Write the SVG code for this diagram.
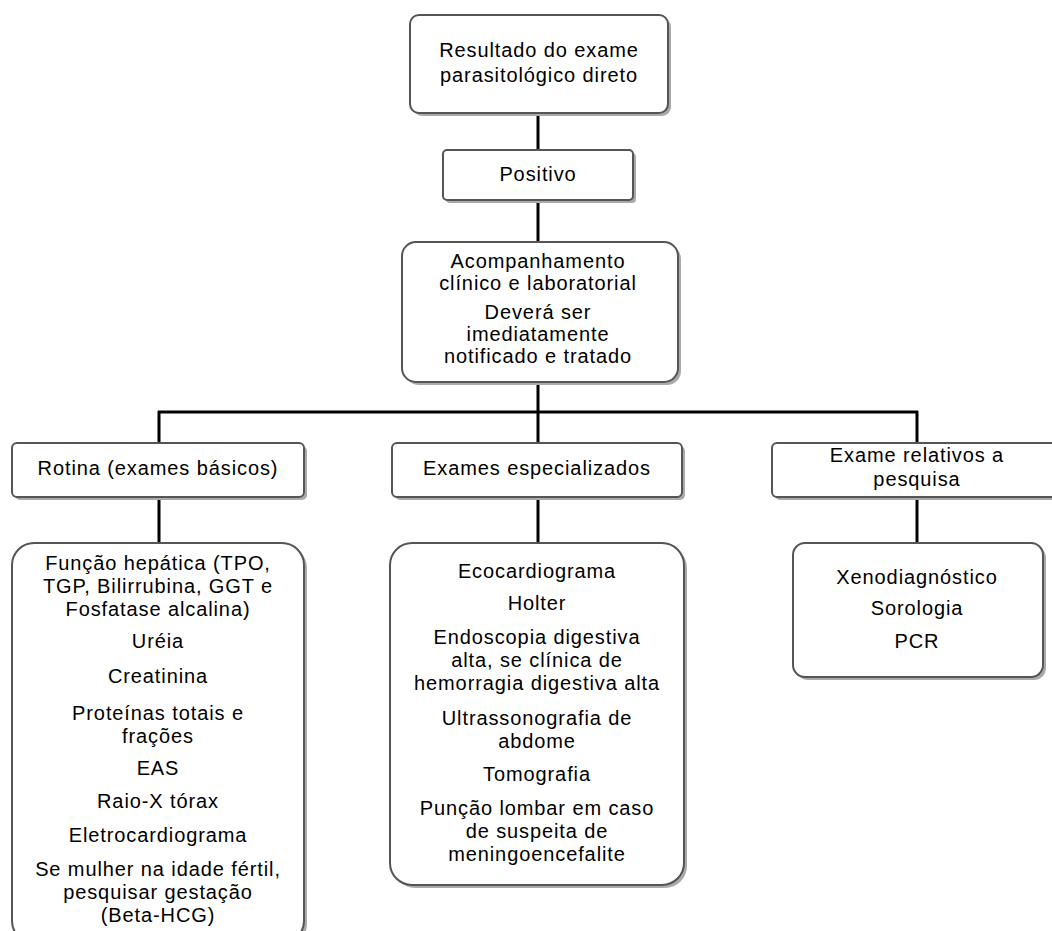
<svg xmlns="http://www.w3.org/2000/svg" width="1052" height="931" viewBox="0 0 1052 931">
<style>
.sh{fill:#aaaaaa}
.bx{fill:#ffffff;stroke:#555555;stroke-width:2}
text{font-family:"Liberation Sans",Arial,sans-serif;font-size:20px;fill:#000;text-anchor:middle;letter-spacing:0.9px}
.c line{stroke:#000;stroke-width:3}
</style>
<rect width="1052" height="931" fill="#fff"/>
<g class="c" id="connectors">
<line x1="538" y1="113" x2="538" y2="150"/>
<line x1="538" y1="200" x2="538" y2="242"/>
<line x1="538" y1="382" x2="538" y2="412"/>
<line x1="158" y1="412" x2="918" y2="412"/>
<line x1="159" y1="411" x2="159" y2="444"/>
<line x1="538" y1="411" x2="538" y2="444"/>
<line x1="917" y1="411" x2="917" y2="444"/>
<line x1="159" y1="497" x2="159" y2="545"/>
<line x1="538" y1="497" x2="538" y2="545"/>
<line x1="917" y1="497" x2="917" y2="545"/>
</g>
<g id="n1">
<rect class="sh" x="413" y="18" width="258" height="98" rx="9"/>
<rect class="bx" x="410" y="15" width="258" height="98" rx="9"/>
<text x="539" y="57">Resultado do exame</text>
<text x="539" y="82">parasitológico direto</text>
</g>
<g id="n2">
<rect class="sh" x="446" y="153" width="190" height="50" rx="4"/>
<rect class="bx" x="443" y="150" width="190" height="50" rx="4"/>
<text x="538" y="181">Positivo</text>
</g>
<g id="n3">
<rect class="sh" x="405" y="245" width="276" height="140" rx="14"/>
<rect class="bx" x="402" y="242" width="276" height="140" rx="14"/>
<text x="538" y="268">Acompanhamento</text>
<text x="538" y="290">clínico e laboratorial</text>
<text x="538" y="319">Deverá ser</text>
<text x="538" y="341">imediatamente</text>
<text x="538" y="363">notificado e tratado</text>
</g>
<g id="n4">
<rect class="sh" x="15" y="446" width="292" height="54" rx="5"/>
<rect class="bx" x="12" y="443" width="292" height="54" rx="5"/>
<text x="158" y="475">Rotina (exames básicos)</text>
</g>
<g id="n5">
<rect class="sh" x="395" y="446" width="290" height="54" rx="5"/>
<rect class="bx" x="392" y="443" width="290" height="54" rx="5"/>
<text x="537" y="475">Exames especializados</text>
</g>
<g id="n6">
<rect class="sh" x="775" y="446" width="292" height="54" rx="5"/>
<rect class="bx" x="772" y="443" width="292" height="54" rx="5"/>
<text x="917" y="462">Exame relativos a</text>
<text x="917" y="486">pesquisa</text>
</g>
<g id="n7">
<rect class="sh" x="15" y="546" width="292" height="400" rx="22"/>
<rect class="bx" x="12" y="543" width="292" height="400" rx="22"/>
<text x="158" y="570">Função hepática (TPO,</text>
<text x="158" y="593">TGP, Bilirrubina, GGT e</text>
<text x="158" y="616">Fosfatase alcalina)</text>
<text x="158" y="648">Uréia</text>
<text x="158" y="683">Creatinina</text>
<text x="158" y="720">Proteínas totais e</text>
<text x="158" y="743">frações</text>
<text x="158" y="775">EAS</text>
<text x="158" y="808">Raio-X tórax</text>
<text x="158" y="842">Eletrocardiograma</text>
<text x="158" y="876">Se mulher na idade fértil,</text>
<text x="158" y="899">pesquisar gestação</text>
<text x="158" y="922">(Beta-HCG)</text>
</g>
<g id="n8">
<rect class="sh" x="393" y="546" width="294" height="342" rx="22"/>
<rect class="bx" x="390" y="543" width="294" height="342" rx="22"/>
<text x="537" y="578">Ecocardiograma</text>
<text x="537" y="610">Holter</text>
<text x="537" y="644">Endoscopia digestiva</text>
<text x="537" y="667">alta, se clínica de</text>
<text x="537" y="690">hemorragia digestiva alta</text>
<text x="537" y="725">Ultrassonografia de</text>
<text x="537" y="748">abdome</text>
<text x="537" y="781">Tomografia</text>
<text x="537" y="815">Punção lombar em caso</text>
<text x="537" y="838">de suspeita de</text>
<text x="537" y="861">meningoencefalite</text>
</g>
<g id="n9">
<rect class="sh" x="796" y="546" width="250" height="134" rx="12"/>
<rect class="bx" x="793" y="543" width="250" height="134" rx="12"/>
<text x="917" y="584">Xenodiagnóstico</text>
<text x="917" y="615">Sorologia</text>
<text x="917" y="648">PCR</text>
</g>
</svg>
